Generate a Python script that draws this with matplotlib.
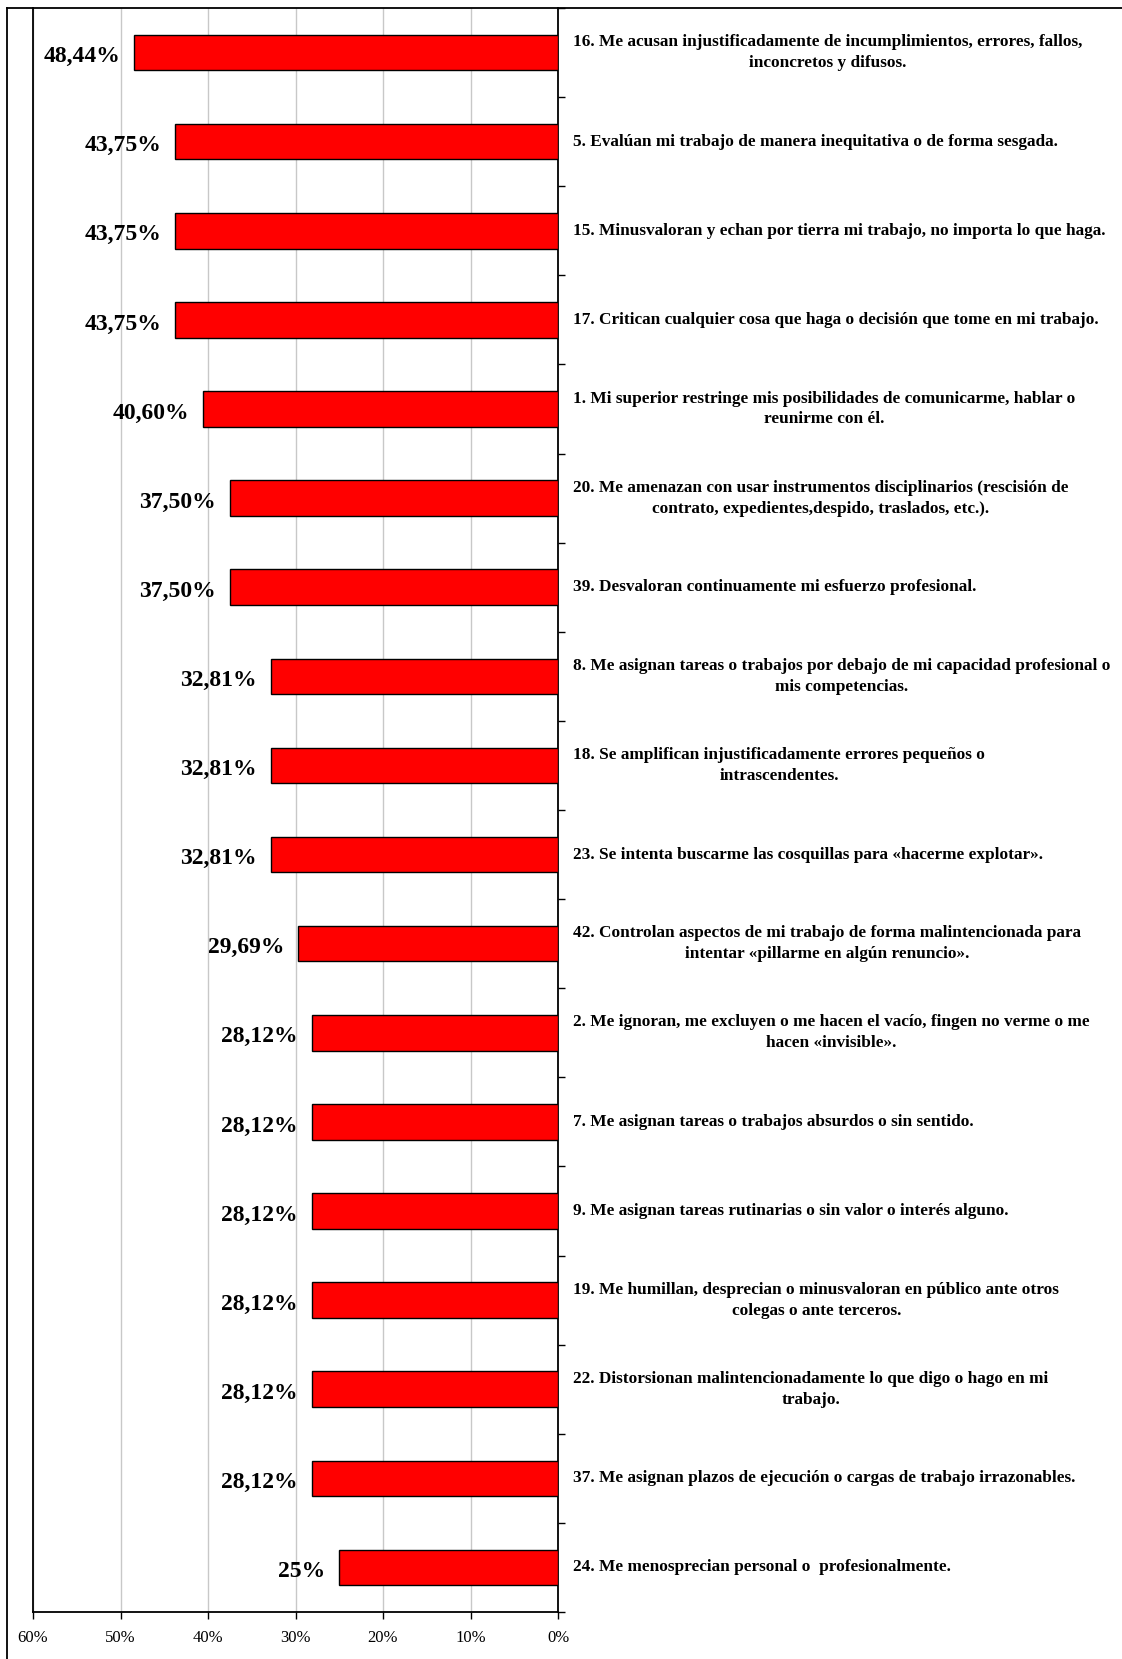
import matplotlib.pyplot as plt
from matplotlib.lines import Line2D
import numpy as np

# datos del gráfico
etiquetas = [
    "16. Me acusan injustificadamente de incumplimientos, errores, fallos,\ninconcretos y difusos.",
    "5. Evalúan mi trabajo de manera inequitativa o de forma sesgada.",
    "15. Minusvaloran y echan por tierra mi trabajo, no importa lo que haga.",
    "17. Critican cualquier cosa que haga o decisión que tome en mi trabajo.",
    "1. Mi superior restringe mis posibilidades de comunicarme, hablar o\nreunirme con él.",
    "20. Me amenazan con usar instrumentos disciplinarios (rescisión de\ncontrato, expedientes,despido, traslados, etc.).",
    "39. Desvaloran continuamente mi esfuerzo profesional.",
    "8. Me asignan tareas o trabajos por debajo de mi capacidad profesional o\nmis competencias.",
    "18. Se amplifican injustificadamente errores pequeños o\nintrascendentes.",
    "23. Se intenta buscarme las cosquillas para «hacerme explotar».",
    "42. Controlan aspectos de mi trabajo de forma malintencionada para\nintentar «pillarme en algún renuncio».",
    "2. Me ignoran, me excluyen o me hacen el vacío, fingen no verme o me\nhacen «invisible».",
    "7. Me asignan tareas o trabajos absurdos o sin sentido.",
    "9. Me asignan tareas rutinarias o sin valor o interés alguno.",
    "19. Me humillan, desprecian o minusvaloran en público ante otros\ncolegas o ante terceros.",
    "22. Distorsionan malintencionadamente lo que digo o hago en mi\ntrabajo.",
    "37. Me asignan plazos de ejecución o cargas de trabajo irrazonables.",
    "24. Me menosprecian personal o  profesionalmente.",
]
valores = [48.44, 43.75, 43.75, 43.75, 40.60, 37.50, 37.50, 32.81, 32.81,
           32.81, 29.69, 28.12, 28.12, 28.12, 28.12, 28.12, 28.12, 25.0]
textos_valor = ["48,44%", "43,75%", "43,75%", "43,75%", "40,60%", "37,50%",
                "37,50%", "32,81%", "32,81%", "32,81%", "29,69%", "28,12%",
                "28,12%", "28,12%", "28,12%", "28,12%", "28,12%", "25%"]
ticks_x = [60, 50, 40, 30, 20, 10, 0]
ticks_x_txt = ["60%", "50%", "40%", "30%", "20%", "10%", "0%"]

plt.rcParams['font.family'] = ['Liberation Serif', 'DejaVu Serif']

W, H = 1122, 1659
fig = plt.figure(figsize=(W / 100, H / 100), dpi=100)
ax = fig.add_axes([33 / W, 47 / H, (558 - 33) / W, (1651 - 47) / H])

y = np.arange(len(valores))
ax.barh(y, valores, height=0.4, color='#FF0000', edgecolor='black',
        linewidth=1.0, zorder=3)

ax.set_xlim(60, 0)
ax.set_ylim(len(valores) - 0.5, -0.5)

# rejilla vertical gris
ax.set_xticks(ticks_x)
ax.set_xticklabels(ticks_x_txt, fontsize=12)
ax.xaxis.grid(True, color='#C8C8C8', linewidth=1.0, zorder=0)
ax.tick_params(axis='x', direction='out', length=5, width=1, pad=8)

# eje vertical a la derecha (0%) con marcas entre categorías
ax.yaxis.tick_right()
ax.set_yticks(np.arange(-0.5, len(valores)))
ax.set_yticklabels([])
ax.tick_params(axis='y', direction='out', length=5, width=1, right=True, left=False)

ax.spines['top'].set_visible(False)
for s in ['left', 'right', 'bottom']:
    ax.spines[s].set_linewidth(1.3)
    ax.spines[s].set_color('black')

# etiquetas de valor a la izquierda de cada barra
for yi, v, t in zip(y, valores, textos_valor):
    ax.annotate(t, xy=(v, yi), xytext=(-10, -3), textcoords='offset points',
                ha='right', va='center', fontsize=17, fontweight='bold')

# etiquetas de categoría a la derecha del eje
for yi, t in zip(y, etiquetas):
    ax.annotate(t, xy=(1, yi), xycoords=('axes fraction', 'data'),
                xytext=(11, 0), textcoords='offset points',
                ha='left', va='center', multialignment='center',
                fontsize=12.4, fontweight='bold', linespacing=1.4,
                annotation_clip=False)

# marco exterior del gráfico
fig.add_artist(Line2D([7 / W, 7 / W], [0, 1 - 8 / H], transform=fig.transFigure,
                      color='black', linewidth=1.3))
fig.add_artist(Line2D([7 / W, 1], [1 - 8 / H, 1 - 8 / H], transform=fig.transFigure,
                      color='black', linewidth=1.3))

fig.savefig('out.png', dpi=100)
